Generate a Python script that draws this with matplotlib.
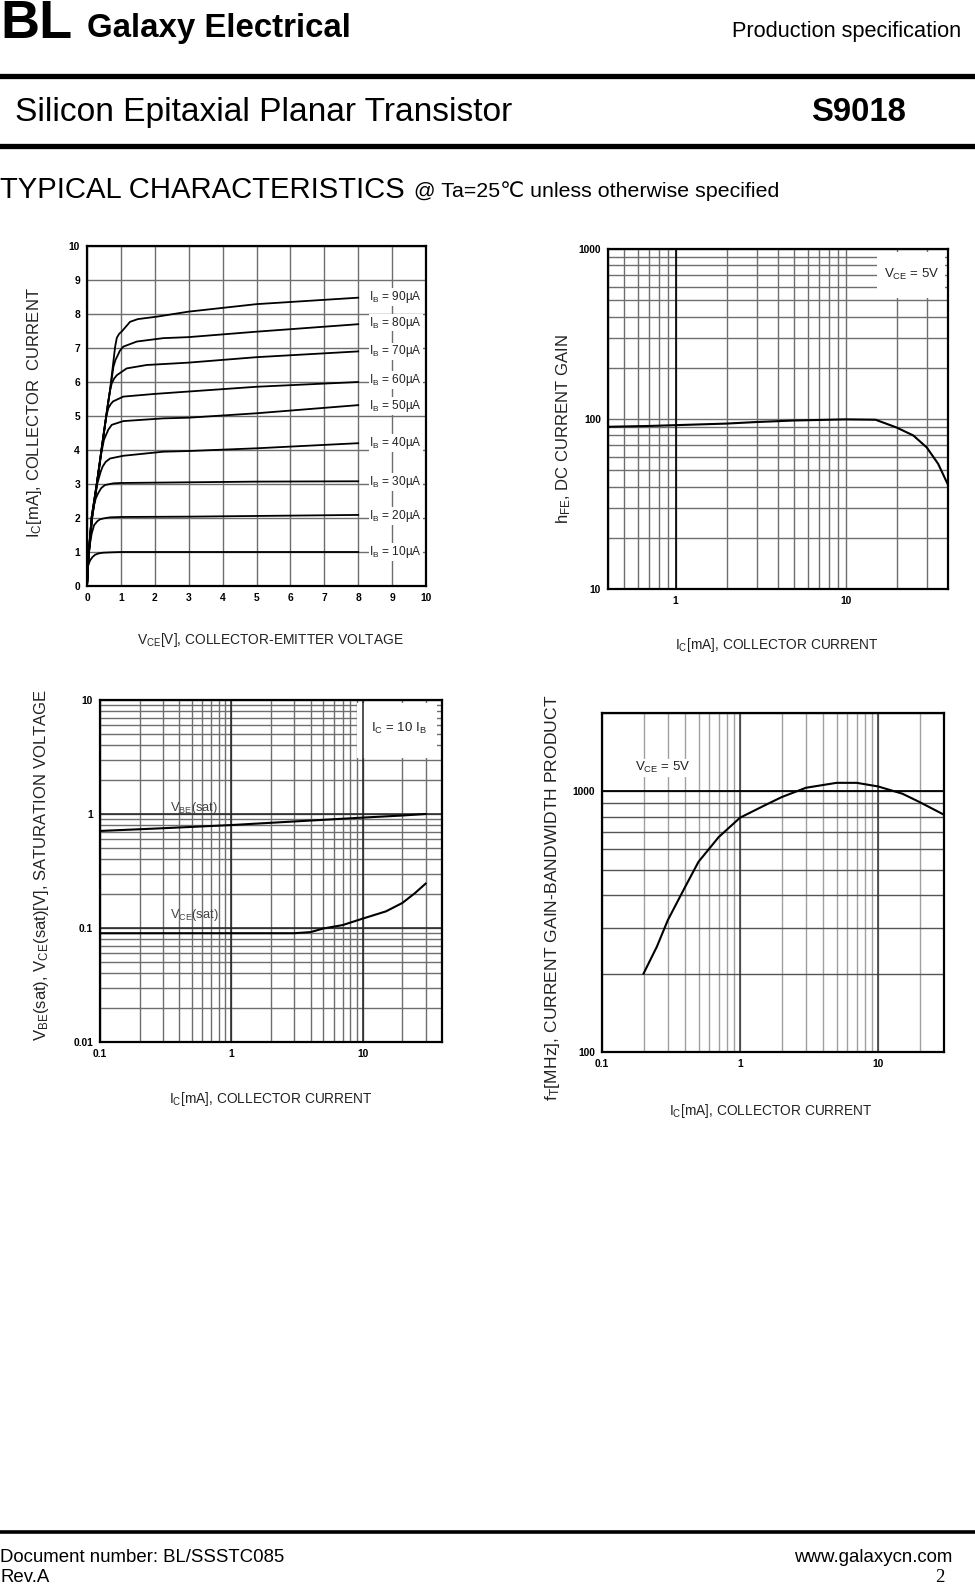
import matplotlib
matplotlib.use('Agg')
import matplotlib.pyplot as plt
from matplotlib.lines import Line2D
from matplotlib.patches import Rectangle
from matplotlib.ticker import NullFormatter

NARROW = ['Liberation Sans', 'DejaVu Sans']
ARIAL = ['Liberation Sans', 'DejaVu Sans', 'Noto Sans CJK SC']

plt.rcParams['mathtext.fontset'] = 'custom'
plt.rcParams['mathtext.rm'] = 'Liberation Sans'
plt.rcParams['mathtext.it'] = 'Liberation Sans:italic'
plt.rcParams['mathtext.bf'] = 'Liberation Sans:bold'

# ---------- datos: Ic-Vce ----------
ib_labels = ['90', '80', '70', '60', '50', '40', '30', '20', '10']
ib_label_y = [8.5, 7.75, 6.9, 6.05, 5.3, 4.2, 3.05, 2.05, 1.0]

vce_90 = [0, 0.04, 0.14, 0.29, 0.48, 0.68, 0.83, 0.88, 0.95, 1.02, 1.27, 1.5, 2.05, 3, 5, 8]
ic_90 = [0, 0.86, 2.04, 3.02, 4.39, 5.76, 7.04, 7.3, 7.42, 7.48, 7.77, 7.85, 7.92, 8.07, 8.29, 8.48]
vce_80 = [0, 0.04, 0.14, 0.29, 0.48, 0.68, 0.78, 0.84, 0.89, 0.97, 1.07, 1.47, 2.25, 3, 5, 8]
ic_80 = [0, 0.86, 2.04, 3.02, 4.39, 5.76, 6.45, 6.65, 6.75, 6.92, 7.04, 7.19, 7.29, 7.32, 7.48, 7.7]
vce_70 = [0, 0.04, 0.14, 0.29, 0.48, 0.62, 0.68, 0.73, 0.8, 0.88, 1.17, 1.76, 3, 5, 8]
ic_70 = [0, 0.86, 2.04, 3.02, 4.39, 5.4, 5.75, 5.96, 6.1, 6.2, 6.4, 6.5, 6.57, 6.73, 6.9]
vce_60 = [0, 0.05, 0.15, 0.3, 0.48, 0.57, 0.63, 0.7, 0.77, 1.07, 2, 3, 5, 8]
ic_60 = [0, 0.9, 2.0, 3.05, 4.35, 5.0, 5.23, 5.35, 5.43, 5.57, 5.65, 5.72, 5.86, 6.0]
vce_50 = [0, 0.05, 0.15, 0.3, 0.42, 0.5, 0.56, 0.63, 0.73, 1.07, 2.25, 3, 5, 8]
ic_50 = [0, 0.9, 2.0, 3.05, 3.9, 4.3, 4.44, 4.6, 4.74, 4.85, 4.93, 4.95, 5.08, 5.32]
vce_40 = [0, 0.05, 0.15, 0.3, 0.4, 0.46, 0.55, 0.68, 1.07, 2.25, 3, 5, 8]
ic_40 = [0, 0.9, 2.0, 3.0, 3.35, 3.51, 3.65, 3.75, 3.83, 3.95, 3.97, 4.05, 4.2]
vce_30 = [0, 0.04, 0.14, 0.2, 0.26, 0.33, 0.42, 0.53, 0.78, 1.0, 3, 5, 8]
ic_30 = [0, 0.86, 2.04, 2.35, 2.58, 2.73, 2.88, 2.97, 3.02, 3.03, 3.05, 3.07, 3.08]
vce_20 = [0, 0.04, 0.09, 0.14, 0.21, 0.3, 0.38, 0.5, 0.68, 1.0, 3, 5, 8]
ic_20 = [0, 0.86, 1.25, 1.55, 1.79, 1.9, 1.96, 1.99, 2.02, 2.03, 2.04, 2.06, 2.09]
vce_10 = [0, 0.03, 0.09, 0.16, 0.24, 0.35, 0.48, 0.7, 1.0, 3, 5, 8]
ic_10 = [0, 0.6, 0.75, 0.85, 0.92, 0.96, 0.98, 0.99, 1.0, 1.0, 1.0, 1.0]

# ---------- datos: hFE ----------
ic_hfe = [0.4, 0.7, 1, 2, 3, 5, 8, 10, 15, 20, 25, 30, 35, 40]
hfe = [90, 91, 92, 94, 96, 98, 99, 99.5, 99, 89, 80, 68, 54.5, 41]

# ---------- datos: saturacion ----------
ic_sat = [0.1, 0.3, 1, 3, 10, 20, 30]
vbe_sat = [0.71, 0.75, 0.80, 0.86, 0.93, 0.97, 1.0]
ic_vce = [0.1, 1, 3, 4, 5, 7, 10, 15, 20, 25, 30]
vce_sat = [0.09, 0.09, 0.09, 0.092, 0.099, 0.106, 0.121, 0.14, 0.166, 0.203, 0.245]

# ---------- datos: fT ----------
ic_ft = [0.2, 0.25, 0.3, 0.4, 0.5, 0.7, 1, 1.5, 2, 3, 5, 7, 10, 15, 20, 30]
ft = [200, 254, 321, 430, 537, 668, 793, 883, 951, 1033, 1079, 1079, 1045, 980, 910, 814]

W, H = 975, 1584
fig = plt.figure(figsize=(W / 100, H / 100), dpi=100)


def fx(x):
    return x / W


def fy(y):
    return 1 - y / H


def ax_px(x0, y0, x1, y1):
    return fig.add_axes([fx(x0), fy(y1), (x1 - x0) / W, (y1 - y0) / H])


def hline(y, lw):
    fig.add_artist(Line2D([0, 1], [fy(y), fy(y)], color='black', lw=lw))


# ---------- cabecera ----------
fig.text(fx(0), fy(38), 'BL', fontsize=39, fontweight='bold', family=ARIAL, va='baseline')
fig.text(fx(87), fy(37), 'Galaxy Electrical', fontsize=23.8, fontweight='bold', family=ARIAL, va='baseline')
fig.text(fx(961), fy(37), 'Production specification', fontsize=15.7, family=ARIAL,
         va='baseline', ha='right')
hline(76, 3.8)
fig.text(fx(15), fy(121), 'Silicon Epitaxial Planar Transistor', fontsize=24.1, family=ARIAL, va='baseline')
fig.text(fx(811), fy(121), 'S9018', fontsize=23.7, fontweight='bold', family=ARIAL, va='baseline')
hline(146, 3.8)
fig.text(fx(0), fy(198), 'TYPICAL CHARACTERISTICS', fontsize=21.1, family=ARIAL, va='baseline')
fig.text(fx(414), fy(197), '@ Ta=25\u2103 unless otherwise specified', fontsize=15.4,
         family=ARIAL, va='baseline')

# ---------- pie ----------
hline(1532, 2.6)
fig.text(fx(0), fy(1562), 'Document number: BL/SSSTC085', fontsize=13.4, family=ARIAL, va='baseline')
fig.text(fx(0), fy(1582), 'Rev.A', fontsize=13.4, family=ARIAL, va='baseline')
fig.text(fx(952), fy(1562), 'www.galaxycn.com', fontsize=13.4, family=ARIAL, va='baseline', ha='right')
fig.text(fx(945), fy(1582), '2', fontsize=13.4, family=['Liberation Serif', 'DejaVu Serif'],
         va='baseline', ha='right')

GRID = '#6e6e6e'
TICK_FS = 7.4
XLAB_FS = 9.9
YLAB_FS = 12.0
LAB_C = '#222222'


def style(ax):
    ax.set_axisbelow(True)
    for s in ax.spines.values():
        s.set_linewidth(1.6)
    ax.tick_params(which='both', length=0, pad=5, labelsize=TICK_FS)
    for lab in ax.get_xticklabels() + ax.get_yticklabels():
        lab.set_family(NARROW)
        lab.set_fontweight('bold')


# ---------- grafico 1: Ic vs Vce ----------
ax1 = ax_px(87, 246, 426, 586)
curves = [(vce_90, ic_90), (vce_80, ic_80), (vce_70, ic_70), (vce_60, ic_60), (vce_50, ic_50),
          (vce_40, ic_40), (vce_30, ic_30), (vce_20, ic_20), (vce_10, ic_10)]
for xs, ys in curves:
    ax1.plot(xs, ys, color='black', lw=1.3)
ax1.set_xlim(0, 10)
ax1.set_ylim(0, 10)
ax1.set_xticks(range(11))
ax1.set_yticks(range(11))
ax1.grid(True, color=GRID, lw=1.0)
for lab, y in zip(ib_labels, ib_label_y):
    ax1.text(8.33, y, 'I$_\\mathrm{B}$ = ' + lab + '\u00b5A', fontsize=8.6, family=NARROW,
             va='center', ha='left', color='#222222',
             bbox=dict(facecolor='white', edgecolor='none', pad=0.6))
style(ax1)
fig.text(fx(35), fy(413), 'I$_\\mathrm{C}$[mA], COLLECTOR  CURRENT', rotation=90, fontsize=YLAB_FS,
         family=NARROW, color=LAB_C, ha='center', va='center')
fig.text(fx(270), fy(640), 'V$_\\mathrm{CE}$[V], COLLECTOR-EMITTER VOLTAGE', fontsize=XLAB_FS,
         family=NARROW, color=LAB_C, ha='center', va='center')

# ---------- grafico 2: hFE ----------
ax2 = ax_px(608, 249, 948, 589)
ax2.plot(ic_hfe, hfe, color='black', lw=1.5)
ax2.set_xscale('log')
ax2.set_yscale('log')
ax2.set_xlim(0.4, 40)
ax2.set_ylim(10, 1000)
ax2.set_xticks([1, 10])
ax2.set_xticklabels(['1', '10'])
ax2.set_yticks([10, 100, 1000])
ax2.set_yticklabels(['10', '100', '1000'])
ax2.xaxis.set_minor_formatter(NullFormatter())
ax2.yaxis.set_minor_formatter(NullFormatter())
ax2.grid(True, which='both', color=GRID, lw=1.0)
ax2.axvline(1, color='black', lw=1.2, zorder=1.5)
ax2.add_patch(Rectangle((0.791, 0.856), 0.2, 0.135, transform=ax2.transAxes,
                        facecolor='white', edgecolor='none', zorder=1))
ax2.text(0.894, 0.924, 'V$_\\mathrm{CE}$ = 5V', transform=ax2.transAxes, fontsize=9.5,
         family=NARROW, ha='center', va='center', color='#222222')
style(ax2)
fig.text(fx(564), fy(429), 'h$_\\mathrm{FE}$, DC CURRENT GAIN', rotation=90, fontsize=YLAB_FS,
         family=NARROW, color=LAB_C, ha='center', va='center')
fig.text(fx(777), fy(645), 'I$_\\mathrm{C}$[mA], COLLECTOR CURRENT', fontsize=XLAB_FS,
         family=NARROW, color=LAB_C, ha='center', va='center')

# ---------- grafico 3: saturacion ----------
ax3 = ax_px(100, 700, 442, 1042)
ax3.plot(ic_sat, vbe_sat, color='black', lw=1.5)
ax3.plot(ic_vce, vce_sat, color='black', lw=1.5)
ax3.set_xscale('log')
ax3.set_yscale('log')
ax3.set_xlim(0.1, 40)
ax3.set_ylim(0.01, 10)
ax3.set_xticks([0.1, 1, 10])
ax3.set_xticklabels(['0.1', '1', '10'])
ax3.set_yticks([0.01, 0.1, 1, 10])
ax3.set_yticklabels(['0.01', '0.1', '1', '10'])
ax3.xaxis.set_minor_formatter(NullFormatter())
ax3.yaxis.set_minor_formatter(NullFormatter())
ax3.grid(True, which='both', color=GRID, lw=1.0)
for v in [1, 10]:
    ax3.axvline(v, color='#222222', lw=1.1, zorder=1.5)
for v in [0.1, 1]:
    ax3.axhline(v, color='#222222', lw=1.1, zorder=1.5)
ax3.add_patch(Rectangle((0.751, 0.83), 0.234, 0.161, transform=ax3.transAxes,
                        facecolor='white', edgecolor='none', zorder=1))
ax3.text(0.874, 0.918, 'I$_\\mathrm{C}$ = 10 I$_\\mathrm{B}$', transform=ax3.transAxes,
         fontsize=9.5, family=NARROW, ha='center', va='center', color='#222222')
ax3.text(0.205, 0.684, 'V$_\\mathrm{BE}$(sat)', transform=ax3.transAxes, fontsize=9.3,
         family=NARROW, ha='left', va='center', color='#444444')
ax3.text(0.205, 0.371, 'V$_\\mathrm{CE}$(sat)', transform=ax3.transAxes, fontsize=9.3,
         family=NARROW, ha='left', va='center', color='#444444')
style(ax3)
fig.text(fx(42), fy(865), 'V$_\\mathrm{BE}$(sat), V$_\\mathrm{CE}$(sat)[V], SATURATION VOLTAGE',
         rotation=90, fontsize=YLAB_FS, family=NARROW, color=LAB_C, ha='center', va='center')
fig.text(fx(271), fy(1099), 'I$_\\mathrm{C}$[mA], COLLECTOR CURRENT', fontsize=XLAB_FS,
         family=NARROW, color=LAB_C, ha='center', va='center')

# ---------- grafico 4: fT ----------
ax4 = ax_px(602, 713, 944, 1052)
ax4.plot(ic_ft, ft, color='black', lw=1.5)
ax4.set_xscale('log')
ax4.set_yscale('log')
ax4.set_xlim(0.1, 30)
ax4.set_ylim(100, 2000)
ax4.set_xticks([0.1, 1, 10])
ax4.set_xticklabels(['0.1', '1', '10'])
ax4.set_yticks([100, 1000])
ax4.set_yticklabels(['100', '1000'])
ax4.xaxis.set_minor_formatter(NullFormatter())
ax4.yaxis.set_minor_formatter(NullFormatter())
ax4.grid(True, which='both', axis='x', color='#a0a0a0', lw=1.0)
ax4.grid(True, which='both', axis='y', color='#555555', lw=1.0)
for v in [1, 10]:
    ax4.axvline(v, color='#333333', lw=1.1, zorder=1.5)
ax4.axhline(1000, color='black', lw=1.3, zorder=1.5)
ax4.text(0.178, 0.838, 'V$_\\mathrm{CE}$ = 5V', transform=ax4.transAxes, fontsize=9.5,
         family=NARROW, ha='center', va='center', color='#222222',
         bbox=dict(facecolor='white', edgecolor='none', pad=1))
style(ax4)
fig.text(fx(553), fy(898), 'f$_\\mathrm{T}$[MHz], CURRENT GAIN-BANDWIDTH PRODUCT', rotation=90,
         fontsize=12.6, family=NARROW, color=LAB_C, ha='center', va='center')
fig.text(fx(771), fy(1111), 'I$_\\mathrm{C}$[mA], COLLECTOR CURRENT', fontsize=XLAB_FS,
         family=NARROW, color=LAB_C, ha='center', va='center')

plt.savefig('out.png', dpi=100)
plt.close()
